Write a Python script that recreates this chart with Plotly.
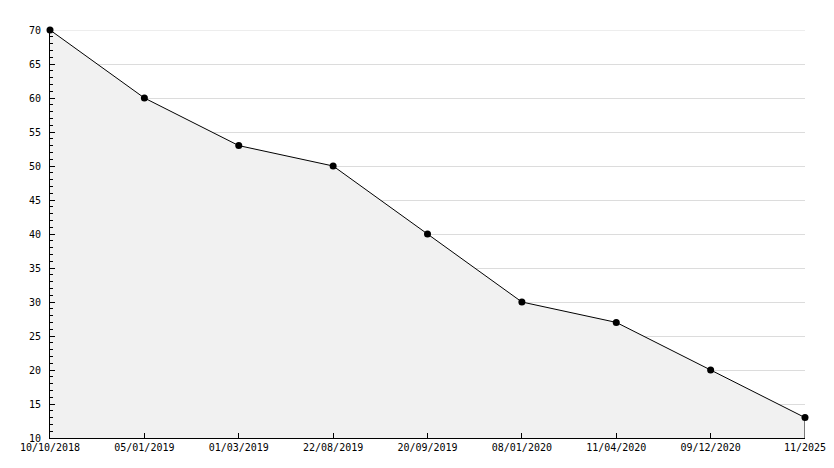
import plotly.graph_objects as go

dates = ["10/10/2018", "05/01/2019", "01/03/2019", "22/08/2019", "20/09/2019",
         "08/01/2020", "11/04/2020", "09/12/2020", "11/2025"]
values = [70, 60, 53, 50, 40, 30, 27, 20, 13]
y_min, y_max = 10, 70

fig = go.Figure()
fig.add_trace(go.Scatter(
    x=dates, y=values, mode="lines+markers",
    fill="tozeroy", fillcolor="#f1f1f1",
    line=dict(color="black", width=1),
    marker=dict(color="black", size=7, symbol="circle"),
    cliponaxis=False, hoverinfo="skip",
))
fig.add_trace(go.Scatter(
    x=[dates[-1], dates[-1]], y=[y_min, values[-1]], mode="lines",
    line=dict(color="black", width=1), hoverinfo="skip",
))
fig.add_hline(y=y_max, line=dict(color="#dcdcdc", width=1), layer="below")

fig.update_layout(
    width=834, height=468,
    margin=dict(l=50, r=29, t=30, b=30),
    paper_bgcolor="white", plot_bgcolor="white",
    showlegend=False,
    font=dict(family="DejaVu Sans Mono", size=10, color="black"),
)
fig.update_xaxes(
    type="category", range=[0, len(dates) - 1], automargin=False,
    showgrid=False, showline=True, linecolor="black", linewidth=1,
    ticks="inside", ticklen=5, tickcolor="black",
    tickangle=0, zeroline=False,
)
fig.update_yaxes(
    range=[y_min, y_max], dtick=5, tick0=0, automargin=False,
    showgrid=True, gridcolor="#dcdcdc", gridwidth=1,
    showline=True, linecolor="black", linewidth=1,
    ticks="inside", ticklen=5, tickcolor="black",
    minor=dict(dtick=1, ticks="inside", ticklen=3, tickcolor="black", showgrid=False),
    zeroline=False, ticklabelstandoff=6,
)
fig.write_html("out.html", config={"displayModeBar": False},
               post_script="document.body.style.margin='0';")
